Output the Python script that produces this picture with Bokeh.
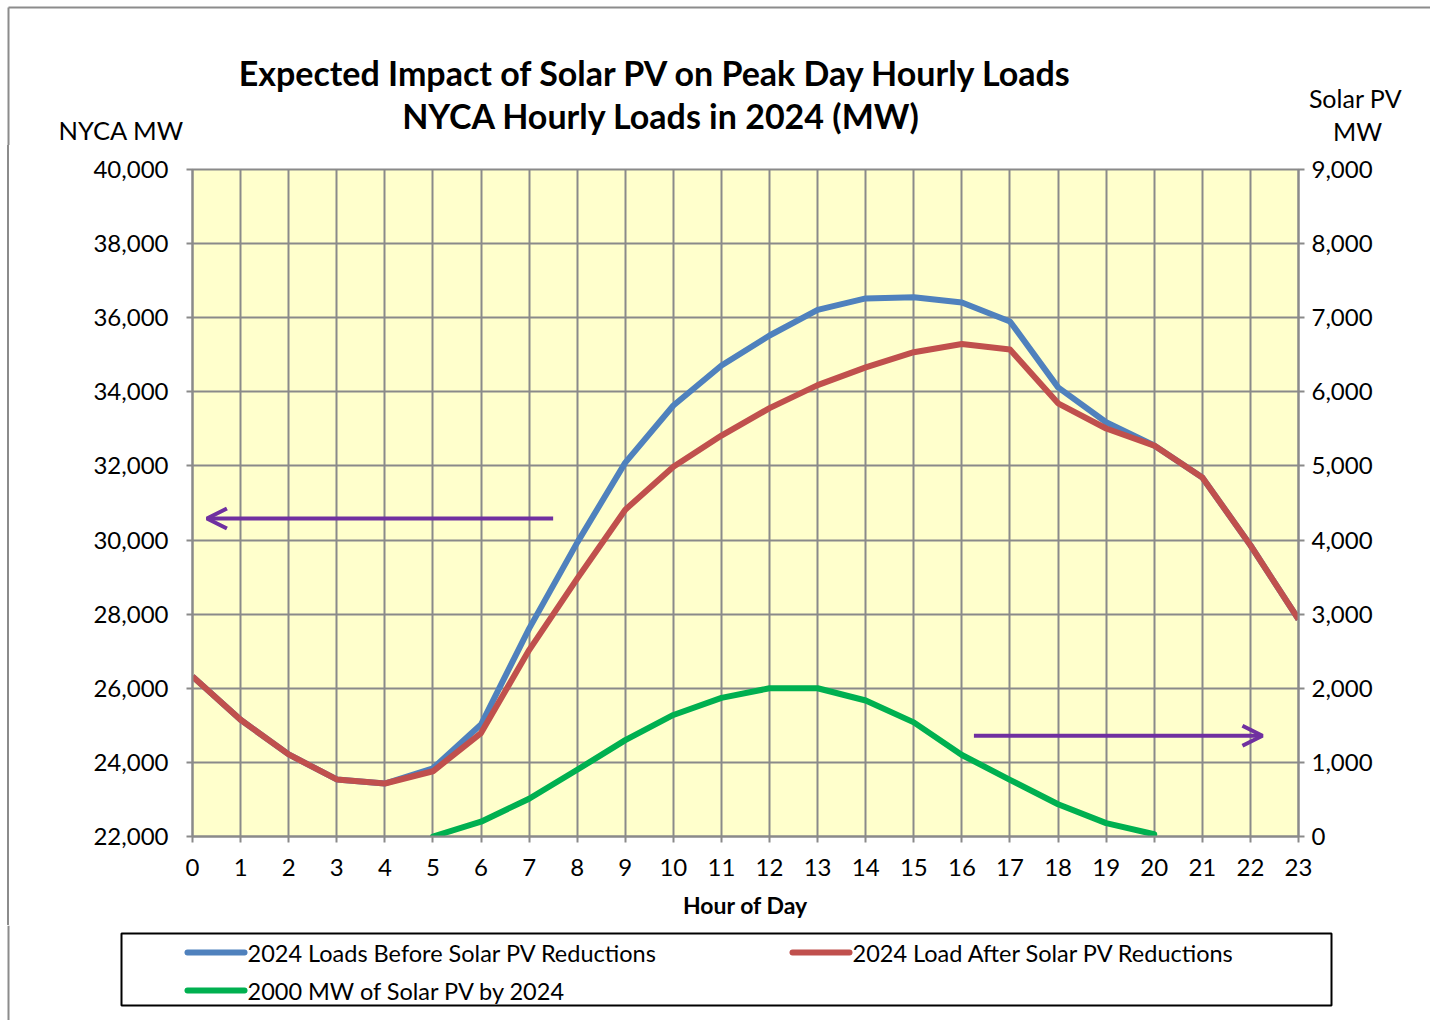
from bokeh.plotting import figure
from bokeh.layouts import column, row
from bokeh.models import (Range1d, LinearAxis, FixedTicker, NumeralTickFormatter,
                          Arrow, OpenHead, Spacer)
from bokeh.core.properties import value
from bokeh.embed import file_html
from bokeh.resources import INLINE

# ---------------- data ----------------
hours = list(range(24))
loads_before = [26320, 25150, 24215, 23540, 23430, 23840, 25020, 27610, 29930, 32090,
                33630, 34710, 35520, 36210, 36520, 36550, 36410, 35900, 34120, 33180,
                32550, 31690, 29860, 27860]
loads_after = [26320, 25150, 24215, 23540, 23430, 23760, 24790, 27030, 28960, 30820,
               31980, 32820, 33560, 34180, 34660, 35070, 35290, 35140, 33690, 33010,
               32550, 31690, 29860, 27860]
pv_hours = list(range(5, 21))
pv_mw = [0, 200, 510, 900, 1300, 1640, 1870, 2000, 2000, 1835, 1540, 1100, 765, 435, 180, 30]

x_ticks = list(range(0, 24))
left_ticks = list(range(22000, 40001, 2000))
right_ticks = list(range(0, 9001, 1000))

series_names = ["2024 Loads Before Solar PV Reductions",
                "2024 Load After Solar PV Reductions",
                "2000 MW of Solar  PV by 2024"]
title_lines = ["Expected Impact of Solar PV on  Peak Day Hourly Loads",
               "NYCA Hourly Loads in 2024 (MW)"]
colors = ["#4F81BD", "#C0504D", "#00B050"]
PURPLE = "#7030A0"
BORDER = "#8c8c8c"
FONT = "Lato"

# ---------------- page geometry ----------------
PAGE_W = 1430
HEAD_H = 145          # header: y 0..145
CHART_BOTTOM = 925    # chart: y 145..925
FOOT_H = 95           # footer: y 925..1020
PX0, PX1, PY0, PY1 = 192, 1298, 169, 836   # plot frame in page pixels
LEFT_PAD = 10          # spacer + border bar left of the chart figure


def canvas(w, h, y0):
    """A figure whose frame is the whole canvas, in page-pixel coordinates (y down)."""
    f = figure(width=w, height=h, output_backend="svg", toolbar_location=None,
               x_range=Range1d(0, w), y_range=Range1d(y0 + h, y0),
               x_axis_location=None, y_axis_location=None,
               min_border=0, min_border_left=0, min_border_right=0,
               min_border_top=0, min_border_bottom=0,
               outline_line_color=None, background_fill_color="white",
               border_fill_color="white")
    f.xgrid.visible = False
    f.ygrid.visible = False
    return f


def txt(f, x, y, s, size, bold=False, align="center"):
    f.text(x=[x], y=[y], text=[s], text_font=value(FONT), text_font_size=size,
           text_font_style="bold" if bold else "normal", text_align=align,
           text_baseline="middle", text_color="black")


# ---------------- header ----------------
head = canvas(PAGE_W, HEAD_H, 0)
txt(head, 660, 72, title_lines[0], "34px", True)
txt(head, 661, 115, title_lines[1], "34px", True)
txt(head, 124, 129, "NYCA  MW", "25.5px")
txt(head, 1355, 97, "Solar PV", "25px")
txt(head, 1357, 130, "MW", "25px")
head.segment(x0=[8, 8], y0=[7, 7], x1=[PAGE_W, 8], y1=[7, HEAD_H],
             line_color=BORDER, line_width=2)

# ---------------- left border bar ----------------
CH = CHART_BOTTOM - HEAD_H
bar = Spacer(width=2, height=CH, styles={"background-color": BORDER})

# ---------------- chart ----------------
CW = PAGE_W - LEFT_PAD
p = figure(width=CW, height=CH, output_backend="svg", toolbar_location=None,
           x_range=Range1d(0, 23), y_range=Range1d(22000, 40000),
           min_border_left=PX0 - LEFT_PAD, min_border_top=PY0 - HEAD_H,
           min_border_right=PAGE_W - PX1, min_border_bottom=CHART_BOTTOM - PY1,
           background_fill_color="#FFFFCC", border_fill_color="white",
           outline_line_color="#8a8a8a", outline_line_width=2)
p.extra_y_ranges = {"pv": Range1d(0, 9000)}

p.xaxis.ticker = FixedTicker(ticks=x_ticks)
p.yaxis.ticker = FixedTicker(ticks=left_ticks)
p.yaxis.formatter = NumeralTickFormatter(format="0,0")
raxis = LinearAxis(y_range_name="pv", ticker=FixedTicker(ticks=right_ticks),
                   formatter=NumeralTickFormatter(format="0,0"))
p.add_layout(raxis, "right")

for ax in [p.xaxis[0], p.yaxis[0], raxis]:
    ax.axis_line_color = "#8a8a8a"
    ax.axis_line_width = 2
    ax.major_tick_line_color = "#8a8a8a"
    ax.major_tick_line_width = 2
    ax.major_tick_out = 6
    ax.major_tick_in = 0
    ax.minor_tick_line_color = None
    ax.major_label_text_font = FONT
    ax.major_label_text_font_size = "24px"
    ax.major_label_text_color = "black"
p.yaxis[0].major_label_standoff = 18
raxis.major_label_standoff = 7
p.xaxis[0].major_label_standoff = 16
p.xaxis[0].axis_label = "Hour of Day"
p.xaxis[0].axis_label_text_font = FONT
p.xaxis[0].axis_label_text_font_size = "23px"
p.xaxis[0].axis_label_text_font_style = "bold"
p.xaxis[0].axis_label_text_color = "black"
p.xaxis[0].axis_label_standoff = 12

p.xgrid.ticker = FixedTicker(ticks=x_ticks)
p.xgrid.grid_line_color = "#8a8a8a"
p.xgrid.grid_line_width = 2
p.ygrid.grid_line_color = "#8a8a8a"
p.ygrid.grid_line_width = 2

p.line(hours, loads_before, line_color=colors[0], line_width=6, line_join="round")
p.line(hours, loads_after, line_color=colors[1], line_width=6, line_join="round")
p.line(pv_hours, pv_mw, line_color=colors[2], line_width=6, line_join="round",
       line_cap="round", y_range_name="pv")

# arrows pointing to the relevant axis
arrow_left = dict(x0=7.5, x1=0.3, y=30580)      # hours, left-axis MW
arrow_right = dict(x0=16.25, x1=22.25, y=1360)  # hours, right-axis MW
p.add_layout(Arrow(x_start=arrow_left["x0"], y_start=arrow_left["y"],
                   x_end=arrow_left["x1"], y_end=arrow_left["y"],
                   line_color=PURPLE, line_width=4,
                   end=OpenHead(size=20, line_color=PURPLE, line_width=4)))
p.add_layout(Arrow(x_start=arrow_right["x0"], y_start=arrow_right["y"],
                   x_end=arrow_right["x1"], y_end=arrow_right["y"],
                   y_range_name="pv", line_color=PURPLE, line_width=4,
                   end=OpenHead(size=20, line_color=PURPLE, line_width=4)))

# ---------------- footer / legend ----------------
foot = canvas(PAGE_W, FOOT_H, CHART_BOTTOM)
foot.segment(x0=[8], y0=[CHART_BOTTOM], x1=[8], y1=[CHART_BOTTOM + FOOT_H],
             line_color=BORDER, line_width=2)
foot.quad(left=[121], right=[1331], top=[933], bottom=[1005],
          fill_color=None, line_color="black", line_width=2)
leg = [(187, 952, 0), (792, 952, 1), (187, 990, 2)]
for lx, ly, i in leg:
    foot.segment(x0=[lx], y0=[ly], x1=[lx + 57], y1=[ly], line_color=colors[i],
                 line_width=6, line_cap="round")
    txt(foot, lx + 60, ly, series_names[i], "23.5px", align="left")

layout = column(head,
                row(Spacer(width=7, height=CH), bar, Spacer(width=1, height=CH), p, spacing=0),
                foot, spacing=0)
open("out.html", "w").write(file_html(layout, INLINE))
